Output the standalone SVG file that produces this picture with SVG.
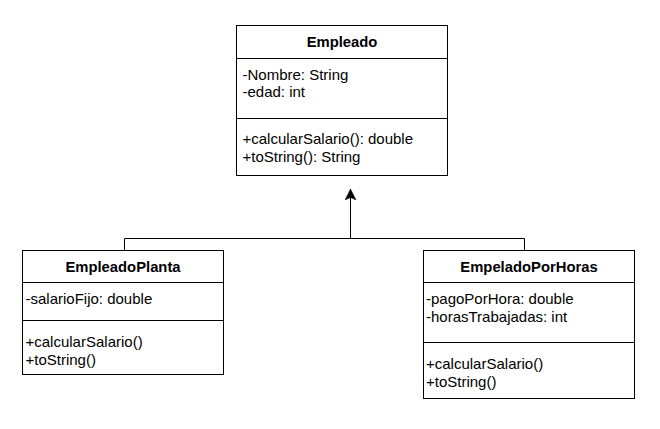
<svg xmlns="http://www.w3.org/2000/svg" width="660" height="429" viewBox="0 0 660 429">
<style>
.box{fill:#fff;stroke:#000;stroke-width:1}
.sep{stroke:#000;stroke-width:1;fill:none}
.t{font-family:"Liberation Sans",Arial,sans-serif;font-size:15px;fill:#000}
.h{font-family:"Liberation Sans",Arial,sans-serif;font-size:14.8px;font-weight:bold;fill:#000;text-anchor:middle}
.edge{fill:none;stroke:#000;stroke-width:1}
</style>
<defs>
<marker id="arr" markerWidth="12" markerHeight="12" viewBox="0 0 12 12" refX="11" refY="6" orient="auto" markerUnits="userSpaceOnUse">
<path d="M0,0.5 L11,6 L0,11.5 L2.5,6 Z" fill="#000" stroke="#000" stroke-width="0.5"/>
</marker>
</defs>
<rect width="660" height="429" fill="#fff"/>
<g id="connectors">
<path class="edge" d="M124.5,250.5 V238.5 H350.5"/>
<path class="edge" d="M524.5,250.5 V238.5 H350.5 V189" marker-end="url(#arr)"/>
</g>
<g id="Empleado">
<rect class="box" x="236.5" y="25.5" width="211" height="150"/>
<line class="sep" x1="236.5" y1="58.5" x2="447.5" y2="58.5"/>
<line class="sep" x1="236.5" y1="118.5" x2="447.5" y2="118.5"/>
<text class="h" x="342" y="47">Empleado</text>
<text class="t" x="242.5" y="80">-Nombre: String</text>
<text class="t" x="242.5" y="97">-edad: int</text>
<text class="t" x="242.5" y="144">+calcularSalario(): double</text>
<text class="t" x="242.5" y="161.5">+toString(): String</text>
</g>
<g id="EmpleadoPlanta">
<rect class="box" x="22.5" y="250.5" width="201" height="124"/>
<line class="sep" x1="22.5" y1="282.5" x2="223.5" y2="282.5"/>
<line class="sep" x1="22.5" y1="320.5" x2="223.5" y2="320.5"/>
<text class="h" x="123" y="272">EmpleadoPlanta</text>
<text class="t" x="25.5" y="304">-salarioFijo: double</text>
<text class="t" x="25.5" y="347">+calcularSalario()</text>
<text class="t" x="25.5" y="365">+toString()</text>
</g>
<g id="EmpeladoPorHoras">
<rect class="box" x="423.5" y="250.5" width="211" height="148"/>
<line class="sep" x1="423.5" y1="282.5" x2="634.5" y2="282.5"/>
<line class="sep" x1="423.5" y1="342.5" x2="634.5" y2="342.5"/>
<text class="h" x="529" y="272">EmpeladoPorHoras</text>
<text class="t" x="426" y="304">-pagoPorHora: double</text>
<text class="t" x="426" y="321.5">-horasTrabajadas: int</text>
<text class="t" x="426" y="369">+calcularSalario()</text>
<text class="t" x="426" y="387">+toString()</text>
</g>
</svg>
